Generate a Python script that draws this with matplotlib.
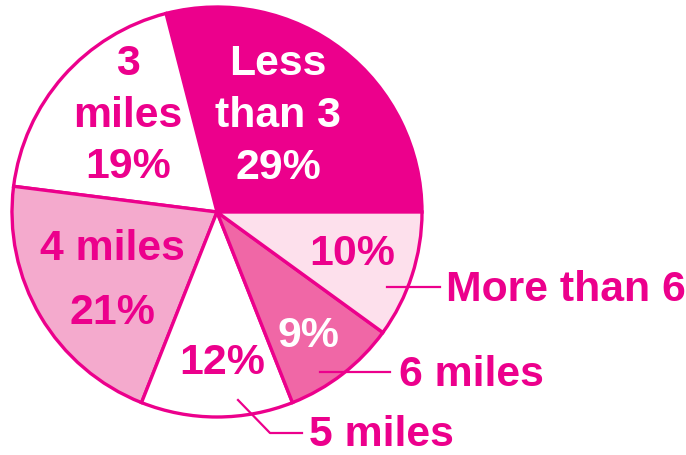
import matplotlib
matplotlib.use("Agg")
import matplotlib.pyplot as plt

categories = ["Less than 3", "3 miles", "4 miles", "5 miles", "6 miles", "More than 6"]
values = [29, 19, 21, 12, 9, 10]
colors = ["#EC008C", "#FFFFFF", "#F4AACD", "#FFFFFF", "#F067A6", "#FDE0EC"]

MAG = "#EC008C"
plt.rcParams['font.family'] = ['Liberation Sans', 'DejaVu Sans']

W, H = 686, 455
fig = plt.figure(figsize=(W / 100, H / 100), dpi=100)
ax = fig.add_axes([0, 0, 1, 1])

def py(y):
    return H - y

ax.pie(values, colors=colors, startangle=0, counterclock=True,
       center=(217, py(212)), radius=205,
       wedgeprops=dict(edgecolor=MAG, linewidth=2.4))
ax.set_xlim(0, W)
ax.set_ylim(0, H)
ax.set_aspect('equal')
ax.axis('off')

fs = 30.8
kw = dict(fontsize=fs, fontweight='bold', ha='center', va='center')
pct = {c: f"{v}%" for c, v in zip(categories, values)}

# Less than 3
ax.text(278, py(64), "Less", color='white', **kw)
ax.text(278, py(116), "than 3", color='white', **kw)
ax.text(278, py(168), pct["Less than 3"], color='white', **kw)
# 3 miles
ax.text(128, py(64), "3", color=MAG, **kw)
ax.text(128, py(116), "miles", color=MAG, **kw)
ax.text(128, py(167), pct["3 miles"], color=MAG, **kw)
# 4 miles
ax.text(112, py(249), "4 miles", color=MAG, **kw)
ax.text(112, py(313), pct["4 miles"], color=MAG, **kw)
# 5 miles
ax.text(222, py(363), pct["5 miles"], color=MAG, **kw)
# 6 miles
ax.text(308, py(336), pct["6 miles"], color='white', **kw)
# More than 6
ax.text(352, py(254), pct["More than 6"], color=MAG, **kw)

# callout labels
lkw = dict(fontsize=fs, fontweight='bold', ha='left', va='center', color=MAG)
ax.text(446, py(290), "More than 6", **lkw)
ax.plot([387, 440], [py(287), py(287)], color=MAG, lw=1.6)
ax.text(399, py(375), "6 miles", **lkw)
ax.plot([320, 390], [py(372), py(372)], color=MAG, lw=1.6)
ax.text(309, py(435), "5 miles", **lkw)
ax.plot([238, 270, 302], [py(400), py(433), py(433)], color=MAG, lw=1.6)

fig.savefig("out.png", dpi=100)
